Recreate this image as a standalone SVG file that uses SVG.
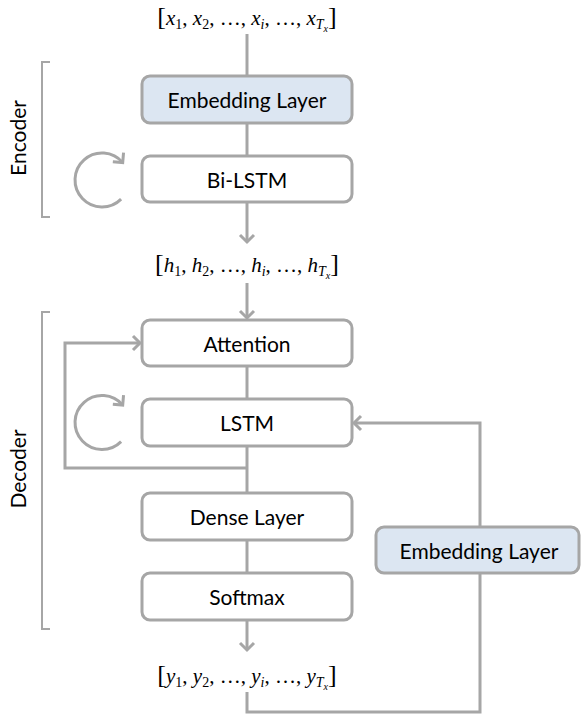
<svg xmlns="http://www.w3.org/2000/svg" width="581" height="716" viewBox="0 0 581 716">
<style>
.box{fill:#ffffff;stroke:#a6a6a6;stroke-width:3}
.emb{fill:#dce6f2}
.lbl{font-family:Lato,"Open Sans",sans-serif;font-size:21px;fill:#000;text-anchor:middle;dominant-baseline:central}
.con{fill:none;stroke:#a6a6a6;stroke-width:3}
.brk{fill:none;stroke:#a6a6a6;stroke-width:2}
.m{font-family:"Liberation Serif","Times New Roman",serif;font-size:21px;fill:#000;text-anchor:middle}
.v{font-style:italic}
.b{font-size:26px}
.s{font-size:14px}
.ss{font-size:10px;font-style:italic}
</style>
<defs>
<marker id="ah" markerUnits="userSpaceOnUse" viewBox="0 0 12 18" markerWidth="12" markerHeight="18" refX="9" refY="9" orient="auto">
<path d="M2,2 L9,9 L2,16" fill="none" stroke="#a6a6a6" stroke-width="3"/>
</marker>
</defs>

<g id="connectors">
<line class="con" x1="247" y1="34" x2="247" y2="76"/>
<line class="con" x1="247" y1="123" x2="247" y2="156"/>
<line class="con" x1="247" y1="202" x2="247" y2="242" marker-end="url(#ah)"/>
<line class="con" x1="247" y1="283" x2="247" y2="318" marker-end="url(#ah)"/>
<line class="con" x1="247" y1="366" x2="247" y2="399"/>
<line class="con" x1="247" y1="446" x2="247" y2="493"/>
<path class="con" d="M247,468 H65 V343 H140" marker-end="url(#ah)"/>
<line class="con" x1="247" y1="540" x2="247" y2="573"/>
<line class="con" x1="247" y1="620" x2="247" y2="650" marker-end="url(#ah)"/>
<path class="con" d="M247,692 V712 H480 V573"/>
<path class="con" d="M480,527 V423 H354" marker-end="url(#ah)"/>
<path class="con" d="M121.1,199.1 A27,27 0 1 1 122.7,162.6" marker-end="url(#ah)"/>
<path class="con" d="M121.1,441.6 A27,27 0 1 1 122.7,405.1" marker-end="url(#ah)"/>
</g>

<g id="encoder-bracket">
<path class="brk" d="M50,62 H42 V217 H50"/>
<text class="lbl" transform="translate(17,138) rotate(-90)">Encoder</text>
</g>
<g id="decoder-bracket">
<path class="brk" d="M50,312 H42 V629 H50"/>
<text class="lbl" transform="translate(17,469) rotate(-90)">Decoder</text>
</g>

<g id="input-seq">
<text class="m" x="247" y="25"><tspan class="b">[</tspan><tspan class="v">x</tspan><tspan class="s" dy="4">1</tspan><tspan dy="-4">, </tspan><tspan class="v">x</tspan><tspan class="s" dy="4">2</tspan><tspan dy="-4">, …, </tspan><tspan class="v">x</tspan><tspan class="s v" dy="4">i</tspan><tspan dy="-4">, …, </tspan><tspan class="v">x</tspan><tspan class="s v" dy="4">T</tspan><tspan class="ss" dy="3">x</tspan><tspan class="b" dy="-7">]</tspan></text>
</g>

<g id="encoder-embedding">
<rect class="box emb" x="142" y="76" width="210" height="47" rx="8"/>
<text class="lbl" x="247" y="99.5">Embedding Layer</text>
</g>
<g id="bi-lstm">
<rect class="box" x="142" y="156" width="210" height="46" rx="8"/>
<text class="lbl" x="247" y="179">Bi-LSTM</text>
</g>

<g id="hidden-seq">
<text class="m" x="247" y="272"><tspan class="b">[</tspan><tspan class="v">h</tspan><tspan class="s" dy="4">1</tspan><tspan dy="-4">, </tspan><tspan class="v">h</tspan><tspan class="s" dy="4">2</tspan><tspan dy="-4">, …, </tspan><tspan class="v">h</tspan><tspan class="s v" dy="4">i</tspan><tspan dy="-4">, …, </tspan><tspan class="v">h</tspan><tspan class="s v" dy="4">T</tspan><tspan class="ss" dy="3">x</tspan><tspan class="b" dy="-7">]</tspan></text>
</g>

<g id="attention">
<rect class="box" x="142" y="320" width="210" height="46" rx="8"/>
<text class="lbl" x="247" y="343">Attention</text>
</g>
<g id="lstm">
<rect class="box" x="142" y="399" width="210" height="47" rx="8"/>
<text class="lbl" x="247" y="422.5">LSTM</text>
</g>
<g id="dense">
<rect class="box" x="142" y="493" width="210" height="47" rx="8"/>
<text class="lbl" x="247" y="516.5">Dense Layer</text>
</g>
<g id="softmax">
<rect class="box" x="142" y="573" width="210" height="47" rx="8"/>
<text class="lbl" x="247" y="596.5">Softmax</text>
</g>
<g id="decoder-embedding">
<rect class="box emb" x="376" y="527" width="203" height="46" rx="8"/>
<text class="lbl" x="479" y="550">Embedding Layer</text>
</g>

<g id="output-seq">
<text class="m" x="247" y="683"><tspan class="b">[</tspan><tspan class="v">y</tspan><tspan class="s" dy="4">1</tspan><tspan dy="-4">, </tspan><tspan class="v">y</tspan><tspan class="s" dy="4">2</tspan><tspan dy="-4">, …, </tspan><tspan class="v">y</tspan><tspan class="s v" dy="4">i</tspan><tspan dy="-4">, …, </tspan><tspan class="v">y</tspan><tspan class="s v" dy="4">T</tspan><tspan class="ss" dy="3">x</tspan><tspan class="b" dy="-7">]</tspan></text>
</g>
</svg>
